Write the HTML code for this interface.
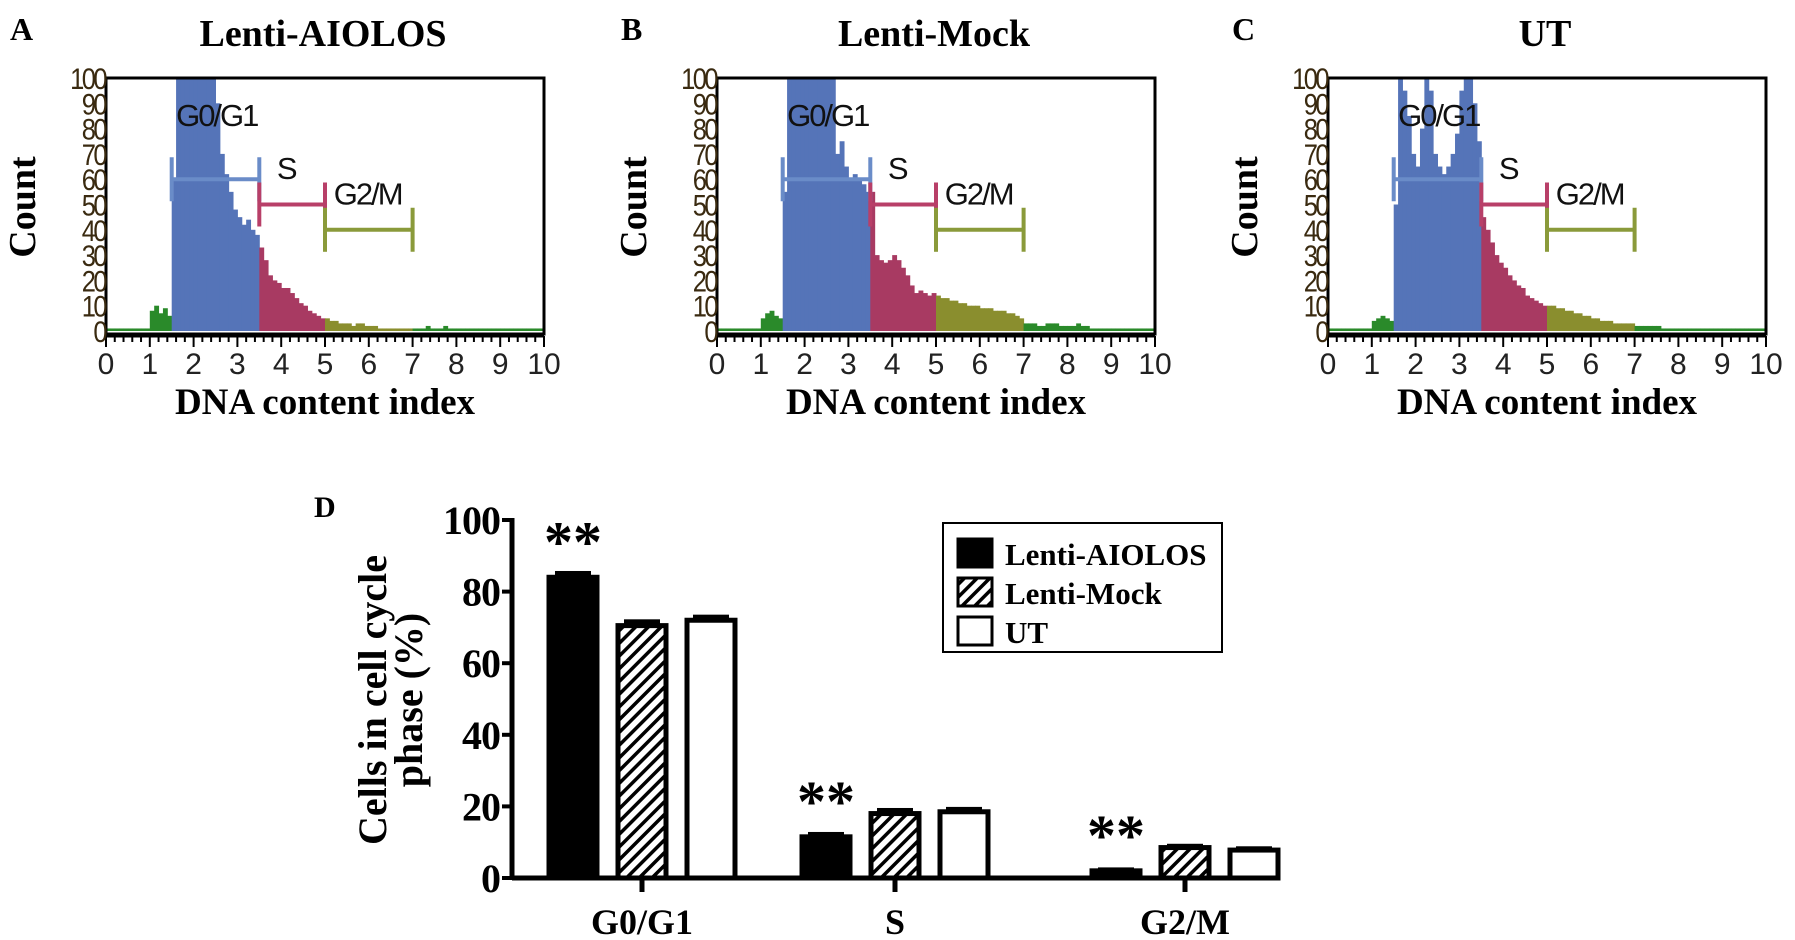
<!DOCTYPE html>
<html><head><meta charset="utf-8"><style>
body{margin:0;background:#fff;}
svg{display:block;font-family:"Liberation Serif",serif;}
.tk{font-family:"Liberation Sans",sans-serif;}
</style></head><body>
<svg id="fig" width="1795" height="940" viewBox="0 0 1795 940">
<defs>
<pattern id="hatch" patternUnits="userSpaceOnUse" width="9" height="9" patternTransform="rotate(45)">
<rect width="9" height="9" fill="#fff"/><rect width="3.5" height="9" fill="#000"/>
</pattern>
</defs>
<g id="hists"></g>
<g id="bars"></g>
</svg>
<script>
const histA=[1,1,1,1,1,1,1,1,1,1, 8,10,7,9,6, 60,100,100,100,100,100,100,100,100,100, 90,70,62,55, 48,45,42,44,40,38,
33,28,22,20,19,17,17,15,13,11,10,8,7,6,5,
5,4,4,3,3,3,2,3,3,2,2,2,1,1,1,1,1,1,1,1,
1,1,1,2,1,1,1,2,1,1,1,1,1,1,1,1,1,1,1,1,1,1,1,1,1,1,1,1,1,1];
const histB=[1,1,1,1,1,1,1,1,1,1, 5,7,8,6,5, 55,100,100,100,100,100,100,100,100,100,100,100, 70,75,65,60,62,60,58,55,
55,30,28,27,28,30,28,25,22,18,15,16,15,14,15,
14,13,13,12,12,11,11,10,10,10,9,9,9,8,8,8,7,7,6,5,
3,3,3,2,2,3,3,3,2,2,2,2,3,2,2,1,1,1,1,1,1,1,1,1,1,1,1,1,1,1];
const histC=[1,1,1,1,1,1,1,1,1,1, 4,5,6,5,4, 50,100,95,85,70,65,80,100,95,70,65,62,65,70,78,95,100,100,90,75,
45,40,35,30,27,25,22,20,18,17,14,13,12,11,10,
10,10,9,9,8,8,7,7,6,6,5,5,4,4,4,3,3,3,3,3,
2,2,2,2,2,2,1,1,1,1,1,1,1,1,1,1,1,1,1,1,1,1,1,1,1,1,1,1,1,1];
const histTitles=["Lenti-AIOLOS","Lenti-Mock","UT"];
const histLetters=["A","B","C"];
const xTicks=[0,1,2,3,4,5,6,7,8,9,10];
const yTicks=[0,10,20,30,40,50,60,70,80,90,100];
const gates=[[1.5,3.5,60],[3.5,5,50],[5,7,40]];

const categories=["G0/G1","S","G2/M"];
const seriesNames=["Lenti-AIOLOS","Lenti-Mock","UT"];
const valAiolos=[84,11.5,2];
const valMock=[70.5,18,8.5];
const valUT=[72,18.5,7.8];
const errAiolos=[1.2,0.8,0.4];
const errMock=[1.2,1,0.5];
const errUT=[1,0.8,0.5];
const barTicks=[0,20,40,60,80,100];

const NS="http://www.w3.org/2000/svg";
function mk(tag,attrs,parent,txt){const e=document.createElementNS(NS,tag);for(const k in attrs)e.setAttribute(k,attrs[k]);if(txt!==undefined)e.textContent=txt;parent.appendChild(e);return e;}

const H=document.getElementById('hists');
const panels=[[106,544,histA],[717,1155,histB],[1328,1766,histC]];
const binCol=x=>x<1.5?'#2a8a2a':x<3.5?'#5574b8':x<5?'#a83a62':x<7?'#8a8e2e':'#2a8a2a';
const gateCol=['#6a8cc8','#b83f68','#8a9a3a'];
panels.forEach((p,pi)=>{
  const [L,R,data]=p, T=78, B=331;
  const sx=v=>L+(R-L)*v/10, sy=v=>B-(B-T)*Math.min(v,100)/100;
  const g=mk('g',{},H);
  
  
  const lt=mk('text',{x:L-96,y:40,'font-size':32,'font-weight':'bold'},g,histLetters[pi]);
  
  const tt=mk('text',{x:(L+R)/2-2,y:46,'font-size':38,'font-weight':'bold','text-anchor':'middle'},g,histTitles[pi]);
  
  data.forEach((v,i)=>{
    const x0=i*0.1;
    const r=mk('rect',{x:sx(x0),y:sy(v),width:sx(0.1)-sx(0)+0.5,height:B-sy(v),fill:binCol(x0+0.05)},g);
    
  });
  mk('rect',{x:L,y:T,width:R-L,height:B-T+3,fill:'none',stroke:'#000','stroke-width':3},g);
  gates.forEach((gt,gi)=>{
    const c=gateCol[gi],y=sy(gt[2]),h=22;
    const gg=mk('g',{stroke:c,'stroke-width':4},g);
    
    mk('line',{x1:sx(gt[0]),x2:sx(gt[1]),y1:y,y2:y},gg);
    mk('line',{x1:sx(gt[0]),x2:sx(gt[0]),y1:y-h,y2:y+h},gg);
    mk('line',{x1:sx(gt[1]),x2:sx(gt[1]),y1:y-h,y2:y+h},gg);
  });
  const lbl=[["G0/G1",1.6,81],["S",3.9,60],["G2/M",5.2,50]];
  lbl.forEach(l=>{const t=mk('text',{x:sx(l[1]),y:sy(l[2]),'font-size':31,'class':'tk',fill:'#111','letter-spacing':-2},g,l[0]);
    });
  mk('line',{x1:L,x2:R,y1:B+5,y2:B+5,stroke:'#000','stroke-width':3},g);
  for(let v=0;v<=10.001;v+=0.2){mk('line',{x1:sx(v),x2:sx(v),y1:B+5,y2:B+(Math.abs(v-Math.round(v))<0.01?16:11),stroke:'#000','stroke-width':2},g);}
  xTicks.forEach(v=>{const t=mk('text',{x:sx(v),y:374,'font-size':30,'class':'tk','text-anchor':'middle',fill:'#222'},g,v);
    });
  yTicks.forEach(v=>{const t=mk('text',{x:0,y:0,'font-size':30,'class':'tk','text-anchor':'end',fill:'#3a2a10',transform:`translate(${L-1},${sy(v)+11}) scale(0.85,1)`,'letter-spacing':-3},g,v);
    });
  const xt=mk('text',{x:(L+R)/2,y:414,'font-size':37,'font-weight':'bold','text-anchor':'middle'},g,'DNA content index');
  
  const yt=mk('text',{x:0,y:0,'font-size':38,'font-weight':'bold','text-anchor':'middle',transform:`translate(${L-71},207) rotate(-90)`},g,'Count');
  
});

const Bg=document.getElementById('bars');
const bL=512,bR=1266,bT=520,bB=878;
const by=v=>bB-(bB-bT)*v/100;
const centers=[642,895,1185];
const bw=48,step=69;
const fills=['#000','url(#hatch)','#fff'];
const vals=[valAiolos,valMock,valUT], errs=[errAiolos,errMock,errUT];
const dl=mk('text',{x:314,y:517,'font-size':30,'font-weight':'bold'},Bg,'D');

categories.forEach((c,ci)=>{
  vals.forEach((arr,si)=>{
    const x=centers[ci]+(si-1)*step-bw/2, v=arr[ci], e=errs[si][ci];
    const r=mk('rect',{x:x,y:by(v),width:bw,height:bB-by(v),fill:fills[si],stroke:'#000','stroke-width':5},Bg);
    
    mk('rect',{x:x+6,y:by(v+e)-2,width:bw-12,height:by(v)-by(v+e)+3,fill:'#000'},Bg);
  });
  const st=mk('text',{x:centers[ci]-step,y:by(valAiolos[ci])+14-30,'font-size':58,'font-weight':'bold','text-anchor':'middle'},Bg,'**');
  
  mk('line',{x1:centers[ci],x2:centers[ci],y1:bB,y2:bB+14,stroke:'#000','stroke-width':5},Bg);
  const t=mk('text',{x:centers[ci],y:934,'font-size':36,'font-weight':'bold','text-anchor':'middle'},Bg,c);
  
});
mk('line',{x1:bL,x2:bL,y1:bT-2,y2:bB+2,stroke:'#000','stroke-width':5},Bg);
mk('line',{x1:bL,x2:bR,y1:bB,y2:bB,stroke:'#000','stroke-width':5},Bg);
barTicks.forEach(v=>{
  mk('line',{x1:bL-10,x2:bL,y1:by(v),y2:by(v),stroke:'#000','stroke-width':4},Bg);
  const t=mk('text',{x:bL-12,y:by(v)+14,'font-size':40,'font-weight':'bold','text-anchor':'end','letter-spacing':-1},Bg,v);
  
});
const ytt=mk('text',{transform:'translate(386,700) rotate(-90)','font-size':40,'font-weight':'bold','text-anchor':'middle'},Bg,'Cells in cell cycle');

const ytt2=mk('text',{transform:'translate(422,700) rotate(-90)','font-size':40,'font-weight':'bold','text-anchor':'middle'},Bg,'phase (%)');

const lg=mk('g',{},Bg);

mk('rect',{x:943,y:523,width:279,height:129,fill:'#fff',stroke:'#000','stroke-width':2},lg);
seriesNames.forEach((n,i)=>{
  const y=539+i*39;
  mk('rect',{x:958,y:y,width:34,height:28,fill:fills[i],stroke:'#000','stroke-width':3},lg);
  const t=mk('text',{x:1005,y:y+26,'font-size':31,'font-weight':'bold'},lg,n);
  
});
</script>
</body></html>
